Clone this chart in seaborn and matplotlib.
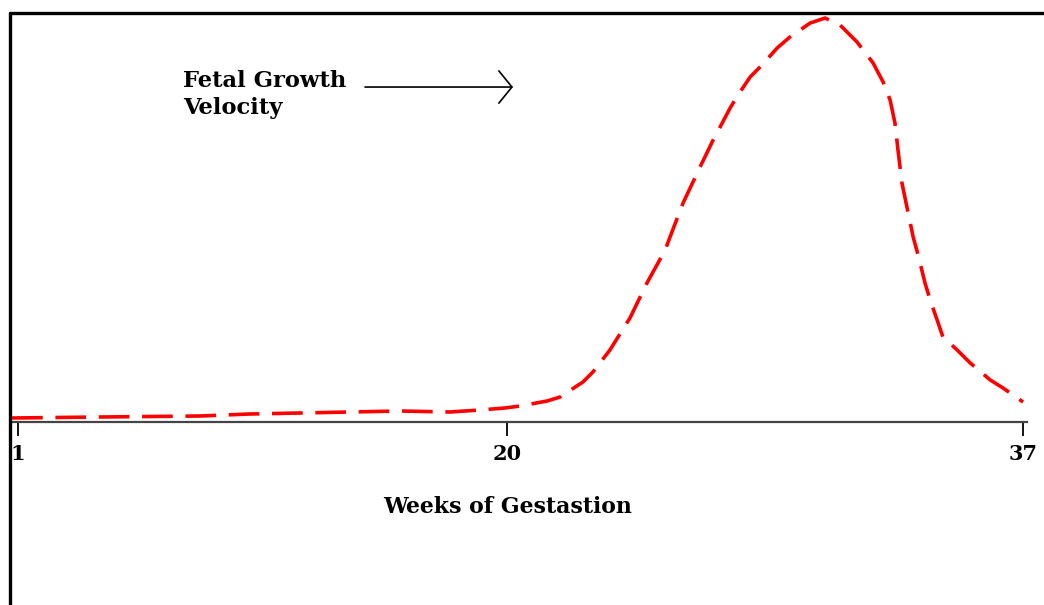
import numpy as np
import pandas as pd
import seaborn as sns
import matplotlib.pyplot as plt
from matplotlib.lines import Line2D

# weeks of gestation and relative growth velocity
weeks = [0.77, 4.19, 8.07, 10.0, 11.96, 13.9, 15.84, 17.78, 18.95, 19.92,
         20.43, 21.32, 21.75, 22.5, 22.83, 23.39, 24.05, 24.61, 25.21, 25.37,
         25.8, 26.36, 26.79, 27.02, 27.35, 27.61, 28.01, 28.4, 28.9, 29.32,
         29.99, 30.48, 30.97, 31.53, 32.06, 32.39, 32.62, 32.78, 32.88, 33.01,
         33.38, 33.56, 33.77, 33.94, 34.17, 34.36, 34.83, 35.26, 35.92, 36.34, 37.0]
velocity = [4, 5, 6, 8, 9, 10, 11, 10, 12, 14,
            16, 21, 25, 40, 50, 72, 104, 139, 172, 185,
            219, 255, 282, 295, 314, 327, 345, 357, 374, 385,
            399, 404, 397, 380, 359, 340, 322, 299, 272, 239,
            185, 165, 139, 122, 102, 85, 72, 59, 42, 34, 20]
tick_weeks = [1, 20, 37]
tick_labels = ["1", "20", "37"]

df = pd.DataFrame({"week": weeks, "velocity": velocity})

sns.set_style("white")
plt.rcParams['font.family'] = ['DejaVu Serif']
plt.rcParams['font.weight'] = 'bold'
plt.rcParams['text.color'] = 'black'
plt.rcParams['xtick.color'] = 'black'

fig = plt.figure(figsize=(10.44, 6.05), dpi=100)
ax = fig.add_axes([12/1044, 1-422/605, 1015/1044, 409/605])

# the drawing is not evenly spaced: 1 -> 20 is shorter than 20 -> 37
def fwd(w):
    w = np.asarray(w, dtype=float)
    return np.where(w < 20, (w - 1) * 25.737, 489 + (w - 20) * 30.353)

def inv(p):
    p = np.asarray(p, dtype=float)
    return np.where(p < 489, 1 + p / 25.737, 20 + (p - 489) / 30.353)

ax.set_xscale('function', functions=(fwd, inv))

sns.lineplot(data=df, x="week", y="velocity", ax=ax, color="#ff0000",
             linewidth=2.6, sort=False)
ax.lines[0].set_dashes((8.5, 3.5))
ax.lines[0].set_solid_joinstyle('round')

ax.set_xlim(0.767, 37.13)
ax.set_ylim(0, 409)
ax.set_xticks(tick_weeks)
ax.set_xticklabels(tick_labels, fontsize=15, fontweight='bold')
ax.set_yticks([])
ax.tick_params(axis='x', bottom=True, direction='out', length=10, width=1.3,
               color='black', labelcolor='black', pad=6)
ax.set_xlabel("")
ax.set_ylabel("")

for s in ['top', 'right', 'left']:
    ax.spines[s].set_visible(False)
ax.spines['bottom'].set_color('#444444')
ax.spines['bottom'].set_linewidth(1.6)

ax.text(0.4887, -0.208, "Weeks of Gestastion", transform=ax.transAxes,
        ha='center', va='center', fontsize=15.8, fontweight='bold', color='black')

ax.text(0.1685, 0.80, "Fetal Growth\nVelocity", transform=ax.transAxes,
        ha='left', va='center', fontsize=16.3, fontweight='bold',
        linespacing=1.3, color='black')
ax.annotate("", xy=(0.4936, 0.819), xytext=(0.3478, 0.819),
            xycoords='axes fraction', textcoords='axes fraction',
            arrowprops=dict(arrowstyle='->,head_length=0.47,head_width=0.58',
                            lw=1.2, color='black', shrinkA=0, shrinkB=0,
                            mutation_scale=20))

# frame lines on the left and top of the picture
fig.add_artist(Line2D([10/1044, 10/1044], [0, 1-13/605], color='black', lw=2.4))
fig.add_artist(Line2D([10/1044, 1], [1-13/605, 1-13/605], color='black', lw=2.4))

fig.savefig("out.png", dpi=100)
